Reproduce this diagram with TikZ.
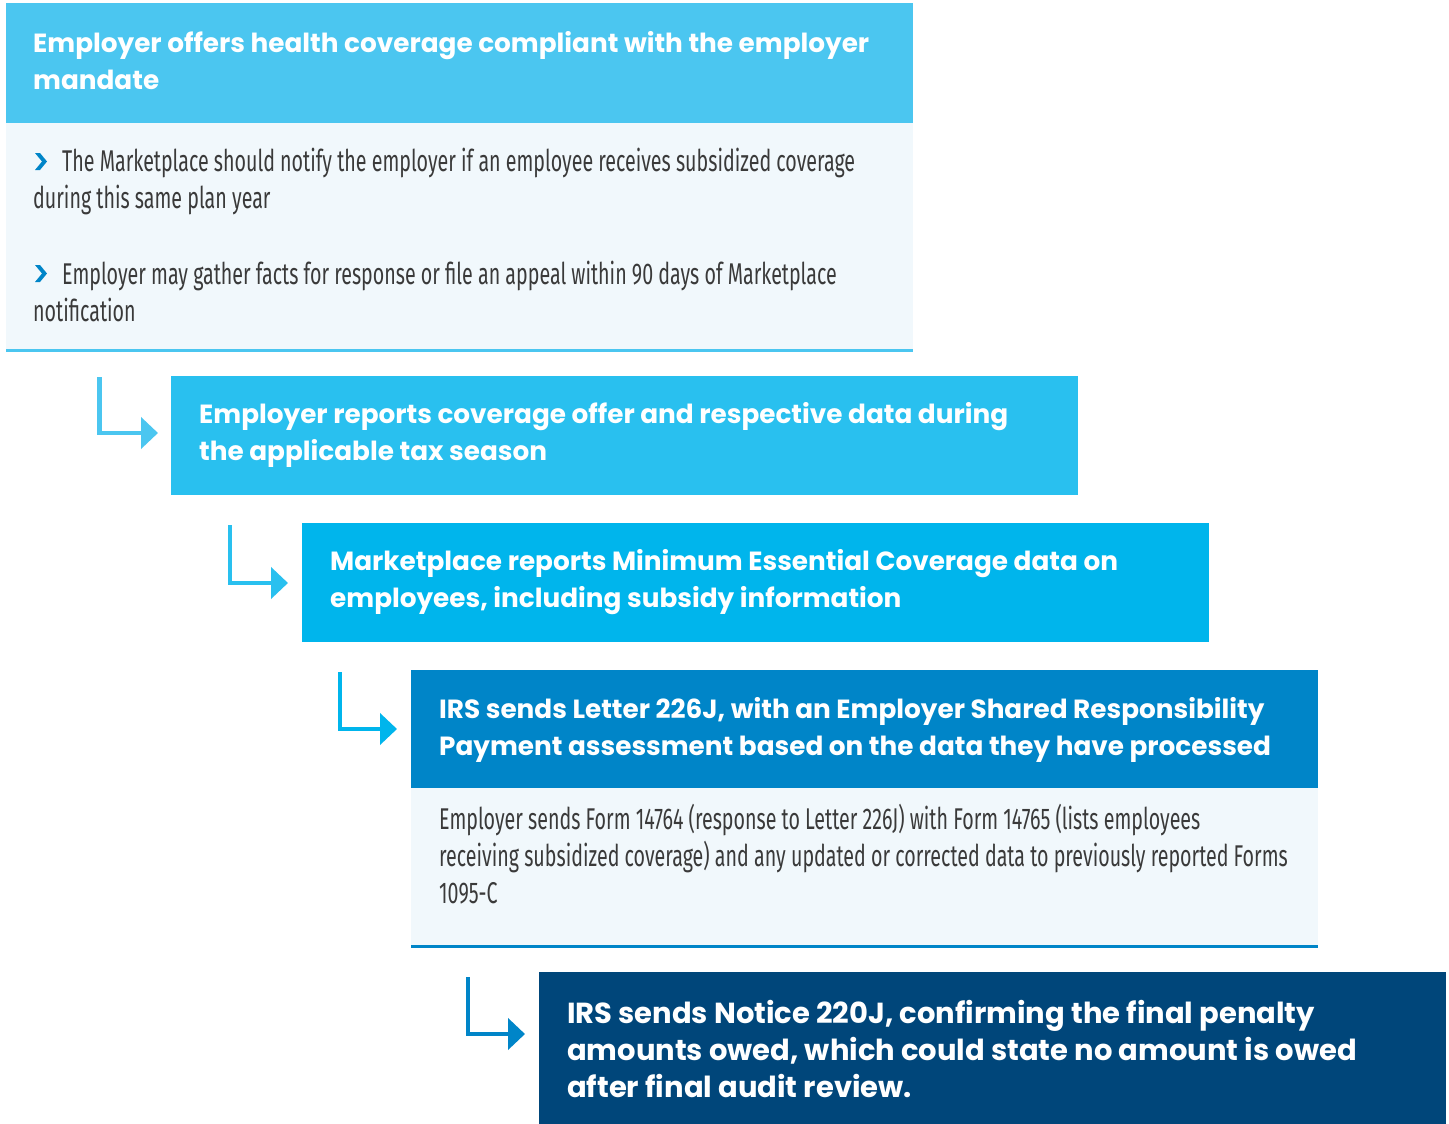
\documentclass[tikz,border=0pt]{standalone}
\usepackage{fontspec}
\usetikzlibrary{arrows.meta}
\newfontfamily\headfont{Poppins}
\newfontfamily\bodyfont{Fira Sans}[FakeStretch=0.655]
\definecolor{cA}{HTML}{4BC6F0}
\definecolor{cB}{HTML}{29C0EF}
\definecolor{cC}{HTML}{00B5EC}
\definecolor{cD}{HTML}{0085C8}
\definecolor{cE}{HTML}{00467A}
\definecolor{bodybg}{HTML}{F1F8FC}
\definecolor{txtgray}{HTML}{3A3A3A}
\tikzset{
  panel/.style={draw=none, inner sep=0pt, anchor=north west, minimum width=907pt},
  headtxt/.style={anchor=base west, inner sep=0pt, align=left, text=white,
    font=\headfont\bfseries\fontsize{26.3}{37}\selectfont},
  bigtxt/.style={headtxt, font=\headfont\bfseries\fontsize{29}{37}\selectfont},
  bodytxt/.style={anchor=base west, inner sep=0pt, align=left, text=txtgray,
    font=\bodyfont\fontsize{30}{37}\selectfont},
  flow/.style={line width=4.6pt, line join=miter, -{Triangle[width=31pt,length=17pt]}},
  chevron/.pic={\fill[cD] (0,0) -- (5,0) -- (12,8.5) -- (5,17) -- (0,17) -- (7,8.5) -- cycle;},
}
\begin{document}
\begin{tikzpicture}[x=1pt,y=-1pt]
\useasboundingbox (0,0) rectangle (1449,1124);
\fill[white] (0,0) rectangle (1449,1124);

% Box 1
\node[panel, fill=cA, minimum height=120pt] (h1) at (6,3) {};
\node[panel, fill=bodybg, minimum height=227pt] (b1) at (6,123) {};
\draw[cA, line width=3pt] (b1.south west) -- (b1.south east);
\node[headtxt] (t1) at (33,89) {Employer offers health coverage compliant with the employer\\mandate};
\node[bodytxt] (s1) at (33,208) {\hspace*{29pt}The Marketplace should notify the employer if an employee receives subsidized coverage\\during this same plan year};
\node[bodytxt] (s2) at (33,321) {\hspace*{29pt}Employer may gather facts for response or file an appeal within 90 days of Marketplace\\notification};
\pic at (35,153) {chevron};
\pic at (35,265) {chevron};

% Box 2
\node[panel, fill=cB, minimum height=119pt] (h2) at (171,376) {};
\node[headtxt] (t2) at (199,460) {Employer reports coverage offer and respective data during\\the applicable tax season};

% Box 3
\node[panel, fill=cC, minimum height=119pt] (h3) at (302,523) {};
\node[headtxt] (t3) at (330,607) {Marketplace reports Minimum Essential Coverage data on\\employees, including subsidy information};

% Box 4
\node[panel, fill=cD, minimum height=118pt] (h4) at (411,670) {};
\node[panel, fill=bodybg, minimum height=158pt] (b4) at (411,788) {};
\draw[cD, line width=3pt] (b4.south west) -- (b4.south east);
\node[headtxt] (t4) at (439,755) {IRS sends Letter 226J, with an Employer Shared Responsibility\\Payment assessment based on the data they have processed};
\node[bodytxt] (s4) at (439,903) {Employer sends Form 14764 (response to Letter 226J) with Form 14765 (lists employees\\receiving subsidized coverage) and any updated or corrected data to previously reported Forms\\1095-C};

% Box 5
\node[panel, fill=cE, minimum height=152pt] (h5) at (539,972) {};
\node[bigtxt] (t5) at (567,1097) {IRS sends Notice 220J, confirming the final penalty\\amounts owed, which could state no amount is owed\\after final audit review.};

% Connectors
\coordinate (a1) at (99.5,377);
\coordinate (a2) at (230,525);
\coordinate (a3) at (340,672);
\coordinate (a4) at (468,977);
\draw[flow, cA, shorten >=13pt] (a1) |- ([yshift=-57pt]h2.north west);
\draw[flow, cB, shorten >=14pt] (a2) |- ([yshift=-60pt]h3.north west);
\draw[flow, cC, shorten >=14pt] (a3) |- ([yshift=-59pt]h4.north west);
\draw[flow, cD, shorten >=14pt] (a4) |- ([yshift=-62pt]h5.north west);
\end{tikzpicture}
\end{document}
